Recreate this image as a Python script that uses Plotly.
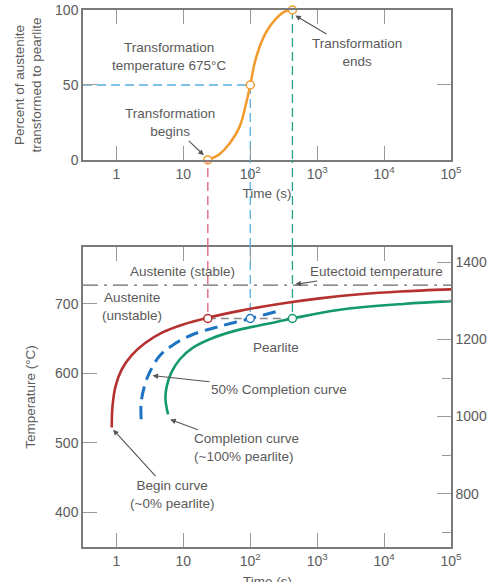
import plotly.graph_objects as go

# ---------------- data ----------------
# top chart: isothermal transformation at 675 C
pct_time = [23.2, 28, 35, 49, 69, 87, 100, 116, 138, 174, 245, 327, 427]
pct_value = [0, 1.5, 4, 11, 22, 38, 50, 64.5, 75.5, 85.5, 94.4, 98.9, 100]
key_times = [23.2, 100, 427]          # begin, 50 %, end
key_pct = [0, 50, 100]
iso_temp = 679                          # transformation temperature as drawn

# bottom chart: TTT curves
begin_time = [0.85, 0.87, 0.966, 1.19, 1.68, 2.72, 4.88, 9.7, 23.0, 69, 316, 1090,
              4330, 17300, 100000]
begin_temp = [522, 551, 581, 605, 626, 644, 659, 670, 680, 690, 701, 708, 714, 718, 721]
half_time = [2.34, 2.34, 2.63, 3.12, 4.4, 7.0, 13.8, 34.7, 100, 245, 282]
half_temp = [534, 558, 582, 601, 625, 641, 656, 667.6, 679, 689, 690]
end_time = [5.9, 5.4, 5.66, 6.6, 8.8, 13.9, 27.5, 69, 174, 427, 1950, 19500, 100000]
end_temp = [541, 563, 582, 601, 620, 637, 651, 663, 671, 679, 691, 700, 704]
eutectoid = 727

x_tickvals = [1, 10, 100, 1000, 10000, 100000]
x_ticktext = ["1", "10", "10<sup>2</sup>", "10<sup>3</sup>", "10<sup>4</sup>", "10<sup>5</sup>"]
x_range_log = [-0.5, 5]
top_y_ticks = [0, 50, 100]
bot_y_ticks = [400, 500, 600, 700]
bot_y_range = [350, 782]
f_ticks = [800, 1000, 1200, 1400]
f_minor = [700, 900, 1100, 1300]

# ---------------- style ----------------
TXT = "#5a5a5a"
AX = "#7a7a7a"
ORANGE = "#f39a2d"
RED = "#b5312f"
BLUE = "#1f74c2"
GREEN = "#14996b"
PINK_D = "#d9607a"
BLUE_D = "#5aade0"
GREEN_D = "#2aa087"
FONT = "Liberation Sans"
key_colors = [PINK_D, BLUE_D, GREEN_D]
marker_colors = [RED, BLUE, GREEN]

TOP_DOM = [0.7207, 1.0]
BOT_DOM = [0.0, 0.5587]

fig = go.Figure()

# ---- top chart ----
fig.add_trace(go.Scatter(x=[10 ** x_range_log[0], key_times[1]], y=[key_pct[1], key_pct[1]],
                         mode="lines", line=dict(color=BLUE_D, width=1.5, dash="9px,5px"),
                         xaxis="x", yaxis="y", hoverinfo="skip", showlegend=False))
for t, p, c in zip(key_times, key_pct, key_colors):
    fig.add_trace(go.Scatter(x=[t, t], y=[p, 0], mode="lines",
                             line=dict(color=c, width=1.3, dash="9px,5px"),
                             xaxis="x", yaxis="y", hoverinfo="skip", showlegend=False))
fig.add_trace(go.Scatter(x=pct_time, y=pct_value, mode="lines",
                         line=dict(color=ORANGE, width=2.5, shape="spline"),
                         xaxis="x", yaxis="y", hoverinfo="skip", showlegend=False))
fig.add_trace(go.Scatter(x=key_times, y=key_pct, mode="markers",
                         marker=dict(size=8, color="white", line=dict(color=ORANGE, width=1.5)),
                         cliponaxis=False, xaxis="x", yaxis="y", showlegend=False))

# ---- bottom chart ----
for t, c in zip(key_times, key_colors):
    fig.add_trace(go.Scatter(x=[t, t], y=[bot_y_range[1], iso_temp], mode="lines",
                             line=dict(color=c, width=1.3, dash="9px,5px"),
                             xaxis="x2", yaxis="y2", hoverinfo="skip", showlegend=False))
fig.add_trace(go.Scatter(x=[key_times[0], key_times[2]], y=[iso_temp, iso_temp], mode="lines",
                         line=dict(color="#888888", width=1.5, dash="8px,5px"),
                         xaxis="x2", yaxis="y2", hoverinfo="skip", showlegend=False))
fig.add_trace(go.Scatter(x=begin_time, y=begin_temp, mode="lines",
                         line=dict(color=RED, width=2.6, shape="spline"),
                         xaxis="x2", yaxis="y2", hoverinfo="skip", showlegend=False))
fig.add_trace(go.Scatter(x=half_time, y=half_temp, mode="lines",
                         line=dict(color=BLUE, width=3, shape="spline", dash="13px,7px"),
                         xaxis="x2", yaxis="y2", hoverinfo="skip", showlegend=False))
fig.add_trace(go.Scatter(x=end_time, y=end_temp, mode="lines",
                         line=dict(color=GREEN, width=2.6, shape="spline"),
                         xaxis="x2", yaxis="y2", hoverinfo="skip", showlegend=False))
fig.add_trace(go.Scatter(x=key_times, y=[iso_temp] * 3, mode="markers",
                         marker=dict(size=8, color="white",
                                     line=dict(color=marker_colors, width=1.5)),
                         xaxis="x2", yaxis="y2", showlegend=False))
fig.add_trace(go.Scatter(x=[None], y=[None], xaxis="x2", yaxis="y3", showlegend=False))

fig.add_shape(type="line", xref="x2 domain", yref="y2", x0=0, x1=1, y0=eutectoid, y1=eutectoid,
              line=dict(color="#6a6a6a", width=1.2, dash="longdashdot"))
for t, c in zip(key_times, key_colors):
    fig.add_shape(type="line", xref="x", yref="paper", x0=t, x1=t,
                  y0=BOT_DOM[1], y1=TOP_DOM[0],
                  line=dict(color=c, width=1.3, dash="9px,5px"))

axis_common = dict(showline=True, linecolor=AX, linewidth=1.5, ticks="inside", ticklen=14,
                   tickcolor="#999999", tickwidth=1.3, showgrid=False, zeroline=False,
                   automargin=False,
                   tickfont=dict(family=FONT, size=14, color=TXT))
title_font = dict(family=FONT, size=13.5, color=TXT)

fig.update_layout(
    width=498, height=582, autosize=False,
    margin=dict(l=83, r=47, t=10, b=35),
    paper_bgcolor="white", plot_bgcolor="white",
    font=dict(family=FONT, size=13.5, color=TXT),
    xaxis=dict(type="log", range=x_range_log, domain=[0, 1], anchor="y",
               tickvals=x_tickvals, ticktext=x_ticktext, mirror="ticks",
               title=dict(text="Time (s)", standoff=8, font=title_font),
               **axis_common),
    yaxis=dict(range=[0, 100], domain=TOP_DOM, anchor="x", tickvals=top_y_ticks, mirror="ticks",
               title=dict(text="Percent of austenite<br>transformed to pearlite", standoff=10,
                          font=title_font),
               **axis_common),
    xaxis2=dict(type="log", range=x_range_log, domain=[0, 1], anchor="y2",
                tickvals=x_tickvals, ticktext=x_ticktext, mirror="ticks",
                **axis_common),
    yaxis2=dict(range=bot_y_range, domain=BOT_DOM, anchor="x2", tickvals=bot_y_ticks, mirror=True,
                title=dict(text="Temperature (°C)", standoff=16, font=title_font),
                **axis_common),
    yaxis3=dict(range=[c * 9 / 5 + 32 for c in bot_y_range], overlaying="y2", side="right",
                anchor="x2", tickvals=f_ticks,
                minor=dict(tickvals=f_minor, ticks="inside", ticklen=9, tickcolor="#999999"),
                **axis_common),
)

# bottom x-axis title, near the page edge as in the reference
fig.add_annotation(text="Time (s)", xref="x2 domain", yref="y2 domain", x=0.5, y=0,
                   yanchor="top", yshift=-25, showarrow=False, font=title_font)

def note(text, x, y, xa="x", ya="y", align="center", head=None):
    kw = dict(showarrow=False)
    if head is not None:
        kw = dict(showarrow=True, x=head[0], y=head[1], ax=x, ay=y, axref=xa, ayref=ya,
                  arrowhead=2, arrowsize=1, arrowwidth=1.1, arrowcolor="#555555", standoff=1)
    else:
        kw.update(x=x, y=y)
    fig.add_annotation(text=text, xref=xa, yref=ya, align=align,
                       font=dict(family=FONT, size=13.5, color=TXT), **kw)

# top annotations (x in log10 units)
note("Transformation<br>temperature 675°C", 0.78, 69)
note("Transformation<br>begins", 0.8, 24.7, head=(1.317, 2.7))
note("Transformation<br>ends", 3.59, 72, head=(2.66, 96.7))

# bottom annotations
note("Austenite (stable)", 0.98, 746, "x2", "y2")
note("Eutectoid temperature", 3.88, 746, "x2", "y2", head=(2.66, 728))
note("Austenite<br>(unstable)", 0.235, 696, "x2", "y2")
note("Pearlite", 2.38, 637, "x2", "y2")
note("50% Completion curve", 2.43, 577, "x2", "y2", head=(0.524, 597))
note("Completion curve<br>(~100% pearlite)", 1.95, 493, "x2", "y2", align="left", head=(0.79, 534))
note("Begin curve<br>(~0% pearlite)", 0.83, 426, "x2", "y2", head=(-0.06, 520))

fig.write_html("out.html")
